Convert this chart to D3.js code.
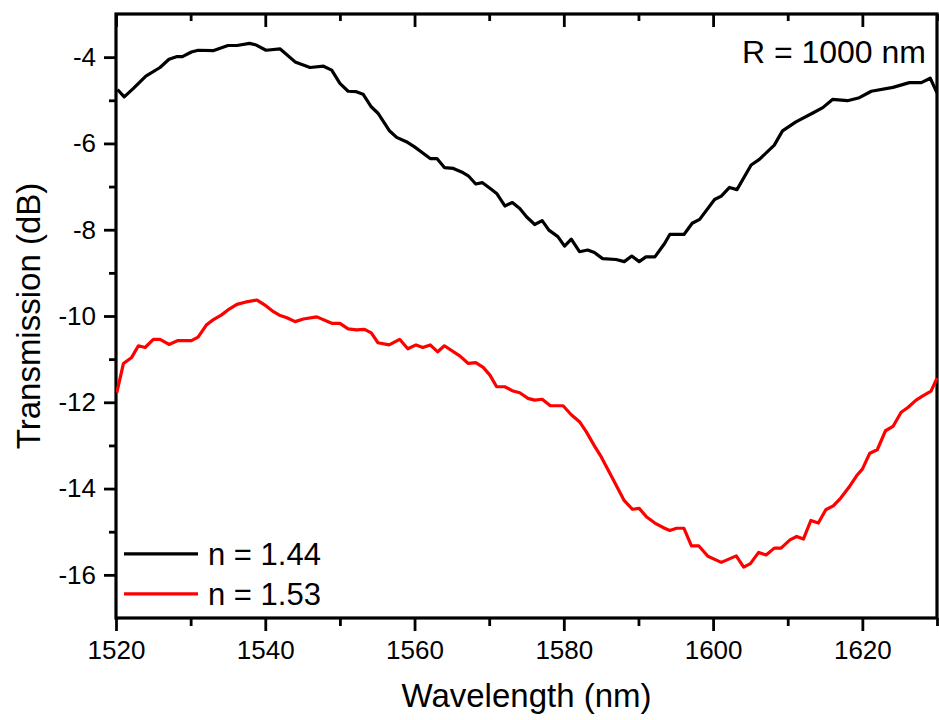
<!DOCTYPE html>
<html>
<head>
<meta charset="utf-8">
<script src="https://cdn.jsdelivr.net/npm/d3@7"></script>
<style>
  body { margin: 0; background: #fff; }
  text { font-family: "Liberation Sans", Arial, sans-serif; fill: #000; }
</style>
</head>
<body>
<div id="vis"></div>
<script>
// ----------------
// 1. Data
// ----------------
const blackWl = [1520.2,1521.1,1522.3,1524.0,1525.9,1527.1,1528.1,1528.9,1530.1,1531.0,1533.0,1535.0,1536.2,1537.9,1538.8,1540.1,1542.0,1544.0,1546.0,1547.8,1548.9,1550.0,1551.1,1552.2,1553.1,1554.2,1555.1,1556.6,1557.6,1558.9,1560.0,1561.1,1562.1,1563.0,1564.0,1565.2,1566.3,1567.2,1568.2,1569.1,1570.1,1571.0,1572.1,1573.1,1574.1,1575.0,1576.1,1577.1,1578.0,1579.2,1580.1,1581.0,1582.1,1583.2,1584.1,1585.2,1587.0,1588.1,1589.1,1590.1,1591.0,1592.2,1593.5,1594.2,1596.1,1597.2,1598.2,1600.2,1601.1,1602.2,1603.2,1605.1,1606.2,1608.2,1609.3,1611.1,1613.3,1614.7,1616.0,1618.0,1619.6,1621.2,1624.1,1626.3,1627.9,1629.1,1630.0];
const blackDb = [-4.75,-4.92,-4.73,-4.44,-4.24,-4.05,-3.99,-3.99,-3.88,-3.84,-3.85,-3.73,-3.73,-3.68,-3.72,-3.84,-3.81,-4.11,-4.24,-4.21,-4.30,-4.61,-4.79,-4.80,-4.86,-5.15,-5.30,-5.70,-5.86,-5.96,-6.08,-6.22,-6.35,-6.35,-6.56,-6.58,-6.66,-6.75,-6.94,-6.91,-7.04,-7.16,-7.45,-7.37,-7.51,-7.70,-7.88,-7.79,-8.01,-8.16,-8.38,-8.22,-8.51,-8.47,-8.53,-8.67,-8.69,-8.74,-8.61,-8.74,-8.63,-8.63,-8.32,-8.11,-8.11,-7.85,-7.76,-7.30,-7.22,-7.02,-7.07,-6.50,-6.37,-6.04,-5.71,-5.50,-5.30,-5.17,-4.98,-5.01,-4.94,-4.79,-4.70,-4.59,-4.59,-4.49,-4.83];

const redWl = [1520.1,1521.0,1522.1,1523.0,1523.9,1525.0,1525.9,1527.1,1528.3,1530.1,1531.0,1532.1,1533.0,1534.1,1535.0,1536.2,1537.3,1538.9,1539.9,1541.1,1542.0,1542.9,1544.0,1545.1,1546.9,1548.9,1550.0,1551.1,1552.2,1553.3,1554.2,1555.1,1556.6,1558.0,1559.1,1560.2,1561.1,1562.1,1563.1,1564.0,1566.1,1567.2,1568.2,1569.2,1570.1,1571.0,1572.1,1573.2,1574.1,1575.2,1576.1,1577.1,1578.2,1579.9,1581.0,1582.1,1583.0,1584.1,1585.0,1586.4,1588.1,1589.2,1590.1,1591.1,1592.2,1593.5,1594.2,1595.1,1596.1,1597.1,1598.1,1599.3,1601.1,1603.1,1604.1,1605.0,1606.1,1607.1,1608.2,1609.1,1610.3,1611.2,1612.1,1613.1,1614.1,1615.1,1616.1,1617.1,1618.2,1619.2,1620.0,1621.0,1622.0,1623.1,1624.1,1625.2,1626.1,1627.2,1628.1,1629.2,1630.0];
const redDb = [-11.78,-11.10,-10.96,-10.69,-10.73,-10.54,-10.54,-10.66,-10.57,-10.57,-10.49,-10.21,-10.09,-9.98,-9.86,-9.73,-9.68,-9.63,-9.74,-9.90,-9.99,-10.04,-10.13,-10.07,-10.02,-10.17,-10.17,-10.30,-10.32,-10.31,-10.39,-10.62,-10.67,-10.54,-10.76,-10.67,-10.73,-10.67,-10.83,-10.69,-10.93,-11.10,-11.08,-11.19,-11.37,-11.64,-11.64,-11.74,-11.78,-11.91,-11.95,-11.93,-12.08,-12.08,-12.29,-12.45,-12.68,-13.01,-13.26,-13.72,-14.28,-14.48,-14.46,-14.66,-14.80,-14.92,-14.97,-14.92,-14.92,-15.33,-15.33,-15.57,-15.71,-15.56,-15.82,-15.74,-15.48,-15.54,-15.38,-15.38,-15.19,-15.11,-15.17,-14.74,-14.80,-14.49,-14.40,-14.22,-13.97,-13.71,-13.55,-13.18,-13.10,-12.66,-12.56,-12.23,-12.12,-11.95,-11.85,-11.74,-11.44];

const seriesNames = ["n = 1.44", "n = 1.53"];
const seriesColors = ["#000000", "#ff0000"];

const xMajorTicks = [1520, 1540, 1560, 1580, 1600, 1620];
const xMinorTicks = [1530, 1550, 1570, 1590, 1610, 1630];
const yMajorTicks = [-16, -14, -12, -10, -8, -6, -4];
const yMinorTicks = [-15, -13, -11, -9, -7, -5];

const annotation = "R = 1000 nm";
const xTitle = "Wavelength (nm)";
const yTitle = "Transmission (dB)";

function drawChart() {

    // ----------------
    // 2. Define dimensions
    // ----------------
    const dimensions = {
        width: 939,
        height: 720,
        margin: {top: 14, right: 1, bottom: 102, left: 116}
    };
    dimensions.boundedWidth = dimensions.width - dimensions.margin.left - dimensions.margin.right;
    dimensions.boundedHeight = dimensions.height - dimensions.margin.top - dimensions.margin.bottom;

    // ----------------
    // 3. Create SVG
    // ----------------
    const root = d3.select("#vis")
        .append("svg")
        .attr("width", dimensions.width)
        .attr("height", dimensions.height);

    const svg = root.append("g")
        .attr("transform", `translate(${dimensions.margin.left}, ${dimensions.margin.top})`);

    svg.append("clipPath")
        .attr("id", "plot-clip")
        .append("rect")
        .attr("width", dimensions.boundedWidth)
        .attr("height", dimensions.boundedHeight);

    // ----------------
    // 4. Create scales
    // ----------------
    const xScale = d3.scaleLinear()
        .domain([1520, 1630])
        .range([0, dimensions.boundedWidth - 1]);

    const yScale = d3.scaleLinear()
        .domain([-17, -3])
        .range([dimensions.boundedHeight, 0]);

    // plain hyphen for negatives, like the original
    const plain = d => String(d);

    // ----------------
    // 5. Axes
    // ----------------
    const styleAxis = g => {
        g.select(".domain").remove();
        g.selectAll("line").attr("stroke", "#000").attr("stroke-width", 2.8);
        g.selectAll("text").style("font-size", "26px").attr("fill", "#000");
    };

    // bottom
    svg.append("g")
        .attr("transform", `translate(0, ${dimensions.boundedHeight})`)
        .call(d3.axisBottom(xScale).tickValues(xMajorTicks).tickFormat(plain).tickSize(13).tickPadding(10))
        .call(styleAxis);
    svg.append("g")
        .attr("transform", `translate(0, ${dimensions.boundedHeight})`)
        .call(d3.axisBottom(xScale).tickValues(xMinorTicks).tickFormat("").tickSize(8))
        .call(styleAxis);

    // top (ticks inward, no labels)
    svg.append("g")
        .call(d3.axisBottom(xScale).tickValues(xMajorTicks).tickFormat("").tickSize(13))
        .call(styleAxis);
    svg.append("g")
        .call(d3.axisBottom(xScale).tickValues(xMinorTicks).tickFormat("").tickSize(7))
        .call(styleAxis);

    // left
    svg.append("g")
        .call(d3.axisLeft(yScale).tickValues(yMajorTicks).tickFormat(plain).tickSize(12).tickPadding(8))
        .call(styleAxis);
    svg.append("g")
        .call(d3.axisLeft(yScale).tickValues(yMinorTicks).tickFormat("").tickSize(7))
        .call(styleAxis);

    // frame
    svg.append("rect")
        .attr("x", 0)
        .attr("y", 0)
        .attr("width", xScale(1630))
        .attr("height", dimensions.boundedHeight)
        .attr("fill", "none")
        .attr("stroke", "#000")
        .attr("stroke-width", 3.2);

    // ----------------
    // 6. Draw lines
    // ----------------
    const series = [
        blackWl.map((w, i) => ({x: w, y: blackDb[i]})),
        redWl.map((w, i) => ({x: w, y: redDb[i]}))
    ];

    const line = d3.line()
        .x(d => xScale(d.x))
        .y(d => yScale(d.y));

    svg.append("g")
        .attr("clip-path", "url(#plot-clip)")
        .selectAll("path")
        .data(series)
        .join("path")
        .attr("d", line)
        .attr("fill", "none")
        .attr("stroke", (d, i) => seriesColors[i])
        .attr("stroke-width", 3.2)
        .attr("stroke-linejoin", "round");

    // ----------------
    // 7. Legend & labels
    // ----------------
    const legend = svg.append("g")
        .attr("transform", `translate(8, ${yScale(-16) - 21})`);

    const items = legend.selectAll("g")
        .data(seriesNames)
        .join("g")
        .attr("transform", (d, i) => `translate(0, ${i * 40})`);

    items.append("line")
        .attr("x1", 0)
        .attr("x2", 74)
        .attr("stroke", (d, i) => seriesColors[i])
        .attr("stroke-width", 3.2);

    items.append("text")
        .attr("x", 84)
        .attr("y", 11)
        .style("font-size", "31px")
        .text(d => d);

    svg.append("text")
        .attr("x", xScale(1630) - 11)
        .attr("y", 49)
        .attr("text-anchor", "end")
        .style("font-size", "32px")
        .text(annotation);

    root.append("text")
        .attr("x", dimensions.margin.left + xScale(1575))
        .attr("y", 707)
        .attr("text-anchor", "middle")
        .style("font-size", "33px")
        .text(xTitle);

    root.append("text")
        .attr("transform", `translate(40, ${dimensions.margin.top + dimensions.boundedHeight / 2}) rotate(-90)`)
        .attr("text-anchor", "middle")
        .style("font-size", "33px")
        .text(yTitle);
}

drawChart();
</script>
</body>
</html>
